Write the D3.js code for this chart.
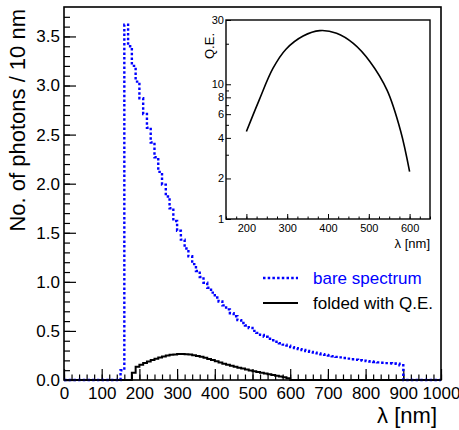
<!DOCTYPE html>
<html>
<head>
<meta charset="utf-8">
<script src="https://cdn.jsdelivr.net/npm/d3@7"></script>
<style>
  body { margin: 0; background: #fff; }
  text { font-family: "Liberation Sans", Arial, Helvetica, sans-serif; }
</style>
</head>
<body>
<svg id="chart" width="459" height="430"></svg>
<script>
/**************************************/
/* Data         */
/**************************************/

// bare Cherenkov spectrum, 10 nm bins starting at 150 nm
const bareStart = 150;
const bareCounts = [0.10, 3.62, 3.40, 3.20, 3.04, 2.87, 2.71, 2.57, 2.42, 2.27,
    2.12, 1.99, 1.87, 1.75, 1.62, 1.52, 1.43, 1.34, 1.26, 1.18,
    1.11, 1.05, 0.99, 0.94, 0.89, 0.84, 0.80, 0.76, 0.72, 0.68,
    0.65, 0.61, 0.58, 0.555, 0.53, 0.50, 0.48, 0.46, 0.44, 0.42,
    0.405, 0.39, 0.375, 0.36, 0.35, 0.335, 0.325, 0.315, 0.305, 0.295,
    0.287, 0.279, 0.271, 0.263, 0.256, 0.249, 0.242, 0.236, 0.23, 0.224,
    0.218, 0.212, 0.207, 0.202, 0.197, 0.192, 0.188, 0.184, 0.18, 0.176,
    0.172, 0.17, 0.168, 0.166, 0.15];

// spectrum folded with Q.E., 10 nm bins starting at 180 nm
const foldStart = 180;
const foldedCounts = [0.075, 0.136, 0.155, 0.172, 0.188, 0.203, 0.217, 0.229, 0.24, 0.249,
    0.256, 0.261, 0.264, 0.265, 0.263, 0.259, 0.253, 0.245, 0.236, 0.226,
    0.215, 0.203, 0.19, 0.178, 0.166, 0.155, 0.145, 0.135, 0.125, 0.116,
    0.107, 0.098, 0.09, 0.082, 0.074, 0.066, 0.058, 0.051, 0.044, 0.036,
    0.028, 0.018];

// inset: quantum efficiency (%)
const qeWavelength = [200, 231, 265, 297, 339, 380, 421, 462, 503, 545, 578, 600];
const qeValue = [4.46, 7.6, 13.1, 18.2, 22.8, 25.0, 23.9, 20.1, 14.7, 9.0, 4.5, 2.25];

const legendLabels = ["bare spectrum", "folded with Q.E."];
const legendColors = ["#0000ff", "#000000"];

const xMajor = d3.range(0, 1001, 100);
const yMajor = [0, 0.5, 1.0, 1.5, 2.0, 2.5, 3.0, 3.5];
const insetXMajor = [200, 300, 400, 500, 600];
const insetYTicks = [1, 2, 3, 4, 5, 6, 7, 8, 9, 10, 20, 30];
const insetYLabels = [1, 2, 4, 6, 8, 10, 30];

/**************************************/
/* Scales                              */
/**************************************/
const svg = d3.select("#chart");

const xScale = d3.scaleLinear().domain([0, 1000]).range([64, 441]);
const yScale = d3.scaleLinear().domain([0, 3.8]).range([380, 7]);

const insetX = d3.scaleLinear().domain([150, 650]).range([226, 430]);
const insetY = d3.scaleLog().domain([1, 30]).range([219, 20]);

// turn a list of bin contents into step points over the full 0-1000 range
const toSteps = (start, counts) => {
    const pts = [[0, 0], [start, 0]];
    counts.forEach((c, i) => pts.push([start + i * 10, c]));
    pts.push([start + counts.length * 10, 0]);
    pts.push([1000, 0]);
    return pts;
};

const stepLine = d3.line()
    .x(d => xScale(d[0]))
    .y(d => yScale(d[1]))
    .curve(d3.curveStepAfter);

/**************************************/
/* Main axes                           */
/**************************************/
const main = svg.append("g");

// minor ticks
main.append("g")
    .attr("transform", "translate(0,380)")
    .call(d3.axisBottom(xScale).tickValues(d3.range(0, 1001, 20)).tickSize(-5.5).tickFormat(""))
    .call(g => g.select(".domain").remove());
main.append("g")
    .attr("transform", "translate(64,0)")
    .call(d3.axisLeft(yScale).tickValues(d3.range(0, 3.8, 0.1)).tickSize(-6).tickFormat(""))
    .call(g => g.select(".domain").remove());

// major ticks with labels
main.append("g")
    .attr("transform", "translate(0,380)")
    .call(d3.axisBottom(xScale).tickValues(xMajor).tickSize(-11).tickPadding(7).tickFormat(d3.format("d")))
    .call(g => g.select(".domain").remove())
    .call(g => g.selectAll("text").attr("font-size", 17).attr("fill", "#000"));
main.append("g")
    .attr("transform", "translate(64,0)")
    .call(d3.axisLeft(yScale).tickValues(yMajor).tickSize(-12).tickPadding(4).tickFormat(d3.format(".1f")))
    .call(g => g.select(".domain").remove())
    .call(g => g.selectAll("text").attr("font-size", 17).attr("fill", "#000"));

main.selectAll(".tick line").attr("stroke", "#000").attr("stroke-width", 1.2);

// axis titles
main.append("text")
    .attr("transform", "translate(25,9) rotate(-90)")
    .attr("text-anchor", "end")
    .attr("font-size", 22)
    .text("No. of photons / 10 nm");
main.append("text")
    .attr("x", 437)
    .attr("y", 423)
    .attr("text-anchor", "end")
    .attr("font-size", 22)
    .text("λ [nm]");

/**************************************/
/* Histograms                          */
/**************************************/
main.append("path")
    .attr("d", stepLine(toSteps(foldStart, foldedCounts)))
    .attr("fill", "none")
    .attr("stroke", legendColors[1])
    .attr("stroke-width", 2);

main.append("path")
    .attr("d", stepLine(toSteps(bareStart, bareCounts)))
    .attr("fill", "none")
    .attr("stroke", legendColors[0])
    .attr("stroke-width", 2.4)
    .attr("stroke-dasharray", "2.5,2.2");

// frame
main.append("rect")
    .attr("x", 64).attr("y", 7)
    .attr("width", 441 - 64).attr("height", 380 - 7)
    .attr("fill", "none")
    .attr("stroke", "#000")
    .attr("stroke-width", 1.6);

/**************************************/
/* Legend                              */
/**************************************/
const legend = main.append("g")
    .selectAll("g")
    .data(legendLabels)
    .join("g")
    .attr("transform", (d, i) => `translate(263,${278 + i * 25})`);

legend.append("line")
    .attr("x1", 0).attr("x2", 35)
    .attr("stroke", (d, i) => legendColors[i])
    .attr("stroke-width", (d, i) => i === 0 ? 2.4 : 2)
    .attr("stroke-dasharray", (d, i) => i === 0 ? "2.5,2.2" : null);

legend.append("text")
    .attr("x", 50)
    .attr("dy", "0.35em")
    .attr("font-size", 17)
    .attr("fill", (d, i) => legendColors[i])
    .text(d => d);

/**************************************/
/* Inset: Q.E. curve                   */
/**************************************/
const inset = svg.append("g");

inset.append("rect")
    .attr("x", 198).attr("y", 8)
    .attr("width", 242).attr("height", 247)
    .attr("fill", "#fff");

inset.append("g")
    .attr("transform", "translate(0,219)")
    .call(d3.axisBottom(insetX).tickValues(d3.range(150, 651, 25)).tickSize(-2.5).tickFormat(""))
    .call(g => g.select(".domain").remove());
inset.append("g")
    .attr("transform", "translate(0,219)")
    .call(d3.axisBottom(insetX).tickValues(insetXMajor).tickSize(-5).tickPadding(5).tickFormat(d3.format("d")))
    .call(g => g.select(".domain").remove())
    .call(g => g.selectAll("text").attr("font-size", 11).attr("fill", "#000"));

inset.append("g")
    .attr("transform", "translate(226,0)")
    .call(d3.axisLeft(insetY).tickValues(insetYTicks)
        .tickSize(-3).tickPadding(2)
        .tickFormat(d => insetYLabels.includes(d) ? d : ""))
    .call(g => g.select(".domain").remove())
    .call(g => g.selectAll(".tick line")
        .attr("x2", d => insetYLabels.includes(d) ? 5 : 3))
    .call(g => g.selectAll("text").attr("font-size", 11).attr("fill", "#000"));

inset.selectAll(".tick line").attr("stroke", "#000").attr("stroke-width", 1);

const qeLine = d3.line()
    .x((d, i) => insetX(qeWavelength[i]))
    .y(d => insetY(d))
    .curve(d3.curveCatmullRom);

inset.append("path")
    .attr("d", qeLine(qeValue))
    .attr("fill", "none")
    .attr("stroke", "#000")
    .attr("stroke-width", 1.6);

inset.append("rect")
    .attr("x", 226).attr("y", 20)
    .attr("width", 430 - 226).attr("height", 219 - 20)
    .attr("fill", "none")
    .attr("stroke", "#000")
    .attr("stroke-width", 1.4);

inset.append("text")
    .attr("transform", "translate(214,33) rotate(-90)")
    .attr("text-anchor", "end")
    .attr("font-size", 13)
    .text("Q.E.");
inset.append("text")
    .attr("x", 430)
    .attr("y", 248)
    .attr("text-anchor", "end")
    .attr("font-size", 13)
    .text("λ [nm]");
</script>
</body>
</html>
